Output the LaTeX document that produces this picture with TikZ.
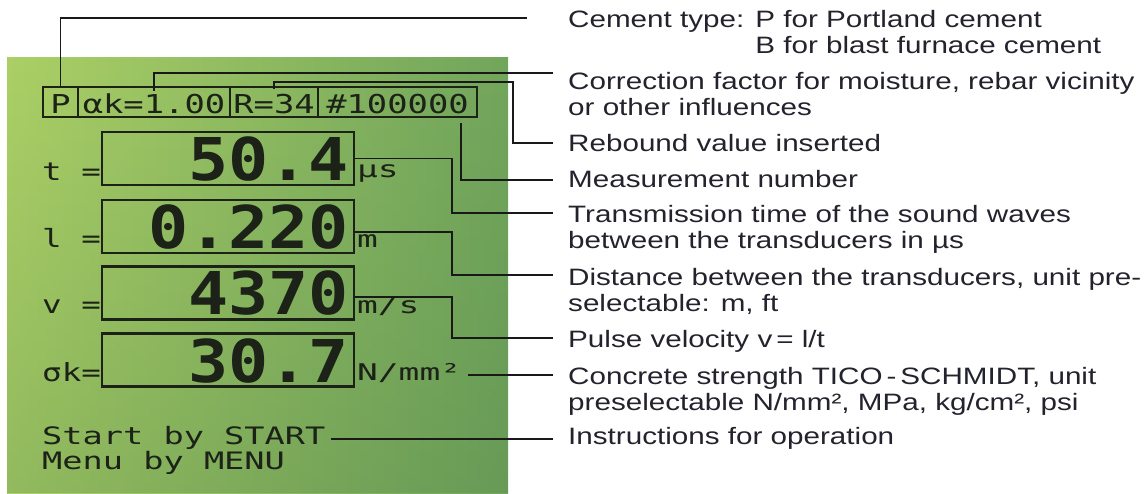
\documentclass[tikz,border=0pt]{standalone}
\usepackage{fontspec}
\usetikzlibrary{fadings}
\setmainfont{Liberation Sans}
\newfontfamily\labfont[FakeStretch=1.25]{Liberation Sans}
\newfontfamily\lcdfont[FakeStretch=1.3]{DejaVu Sans Mono}
\newfontfamily\lcdwidefont[FakeStretch=1.4]{DejaVu Sans Mono}
\newfontfamily\lcdbigfont[FakeStretch=1.13]{DejaVu Sans Mono}
\newfontfamily\lcdunitfont[FakeStretch=1.5]{DejaVu Sans Mono}
\definecolor{lcdA}{RGB}{172,208,102}
\definecolor{lcdB}{RGB}{114,166,92}
\definecolor{lcdC}{RGB}{70,120,70}
\definecolor{lcdink}{RGB}{28,34,24}
\definecolor{labink}{RGB}{35,35,45}
\begin{document}
\begin{tikzpicture}[x=1pt,y=-1pt,
  conn/.style={draw=black!90, line width=1.4pt},
  cell/.style={draw=lcdink, line width=2pt, minimum height=30pt, inner sep=0pt,
    text height=26pt, text depth=4pt, text=lcdink, font=\lcdfont\fontsize{26}{26}\selectfont},
  valbox/.style={draw=lcdink, line width=2.2pt, inner sep=0pt, minimum width=252pt, minimum height=53pt},
  bigval/.style={anchor=base east, inner sep=0pt, text=lcdink, font=\lcdbigfont\bfseries\fontsize{59}{59}\selectfont},
  qlabel/.style={anchor=base west, inner sep=0pt, text=lcdink, font=\lcdfont\fontsize{25}{25}\selectfont},
  unitlab/.style={anchor=base west, inner sep=0pt, text=lcdink, font=\lcdunitfont\fontsize{23}{23}\selectfont},
  lcdtext/.style={anchor=base west, inner sep=0pt, text=lcdink, font=\lcdwidefont\fontsize{24}{24}\selectfont},
  lab/.style={anchor=base west, inner sep=0pt, text=labink, font=\labfont\fontsize{23.7}{26}\selectfont}]
\useasboundingbox (0,0) rectangle (1147,493);

% LCD panel
\shade[left color=lcdA, right color=lcdB] (7,57) rectangle (508,493);
\fill[lcdC, opacity=0.25, path fading=north] (7,57) rectangle (508,493);

% top status row
\node[cell, minimum width=35pt]  (cP) at (60.5,102) {P};
\node[cell, minimum width=152pt] (cA) at (154,102)  {αk=1.00};
\node[cell, minimum width=88pt]  (cR) at (274,102)  {R=34};
\node[cell, minimum width=159pt] (cN) at (397.5,102) {\#100000};

% value boxes
\node[valbox] (vT) at (228,158.5) {};
\node[valbox] (vL) at (228,226.5) {};
\node[valbox] (vV) at (228,293) {};
\node[valbox] (vS) at (228,360) {};

\node[qlabel] (qT) at (42,180) {t =};
\node[qlabel] (qL) at (42,247) {l =};
\node[qlabel] (qV) at (42,313) {v =};
\node[qlabel] (qS) at (42,381) {σk=};

\node[bigval] (nT) at (349,180) {50.4};
\node[bigval] (nL) at (349,248) {0.220};
\node[bigval] (nV) at (349,314) {4370};
\node[bigval] (nS) at (349,382) {30.7};

\node[unitlab] (uT) at (357,177) {µs};
\node[unitlab] (uL) at (357,247) {m};
\node[unitlab] (uV) at (357,313) {m/s};
\node[unitlab] (uS) at (357,380) {N/mm²};

\node[lcdtext] (sA) at (42,444) {Start by START};
\node[lcdtext] (sB) at (42,469) {Menu by MENU};

% explanation texts
\node[lab] (tCement) at (568,27) {\begin{tabular}[t]{@{}l@{}}Cement type: P for Portland cement\\\phantom{Cement type: }B for blast furnace cement\end{tabular}};
\node[lab] (tCorr) at (568,89) {\begin{tabular}[t]{@{}l@{}}Correction factor for moisture, rebar vicinity\\or other influences\end{tabular}};
\node[lab] (tReb) at (568,151) {Rebound value inserted};
\node[lab] (tMeas) at (568,187) {Measurement number};
\node[lab] (tTrans) at (568,222) {\begin{tabular}[t]{@{}l@{}}Transmission time of the sound waves\\between the transducers in µs\end{tabular}};
\node[lab] (tDist) at (568,285) {\begin{tabular}[t]{@{}l@{}}Distance between the transducers, unit pre-\\selectable: m, ft\end{tabular}};
\node[lab] (tPulse) at (568,347) {Pulse velocity v\,= l/t};
\node[lab] (tConc) at (568,384) {\begin{tabular}[t]{@{}l@{}}Concrete strength TICO\,-\,SCHMIDT, unit\\preselectable N/mm², MPa, kg/cm², psi\end{tabular}};
\node[lab] (tInstr) at (568,444) {Instructions for operation};

% connector ends
\coordinate (eCement) at (527,18);
\coordinate (eCorr) at (553,73);
\coordinate (eReb) at (553,143);
\coordinate (eMeas) at (553,180);
\coordinate (eTrans) at (553,213);
\coordinate (eDist) at (553,275);
\coordinate (ePulse) at (553,338);
\coordinate (eConc) at (553,375);
\coordinate (eInstr) at (553,439);

% connectors
\draw[conn] (cP.north) |- (eCement);
\draw[conn] ([yshift=-5pt]cA.north) |- (eCorr);
\draw[conn] ([yshift=-3pt]cR.north) |- (513,82) |- (eReb);
\draw[conn] ([xshift=63.5pt,yshift=-5pt]cN.south) |- (eMeas);
\draw[conn] (vT.east) -| (452,213) -- (eTrans);
\draw[conn] ([yshift=-5.5pt]vL.east) -| (452,275) -- (eDist);
\draw[conn] ([yshift=-4pt]vV.east) -| (452,338) -- (ePulse);
\draw[conn] ([xshift=7pt,yshift=5pt]uS.base east) -- (eConc);
\draw[conn] ([xshift=5pt,yshift=5pt]sA.base east) -- (eInstr);
\end{tikzpicture}
\end{document}
